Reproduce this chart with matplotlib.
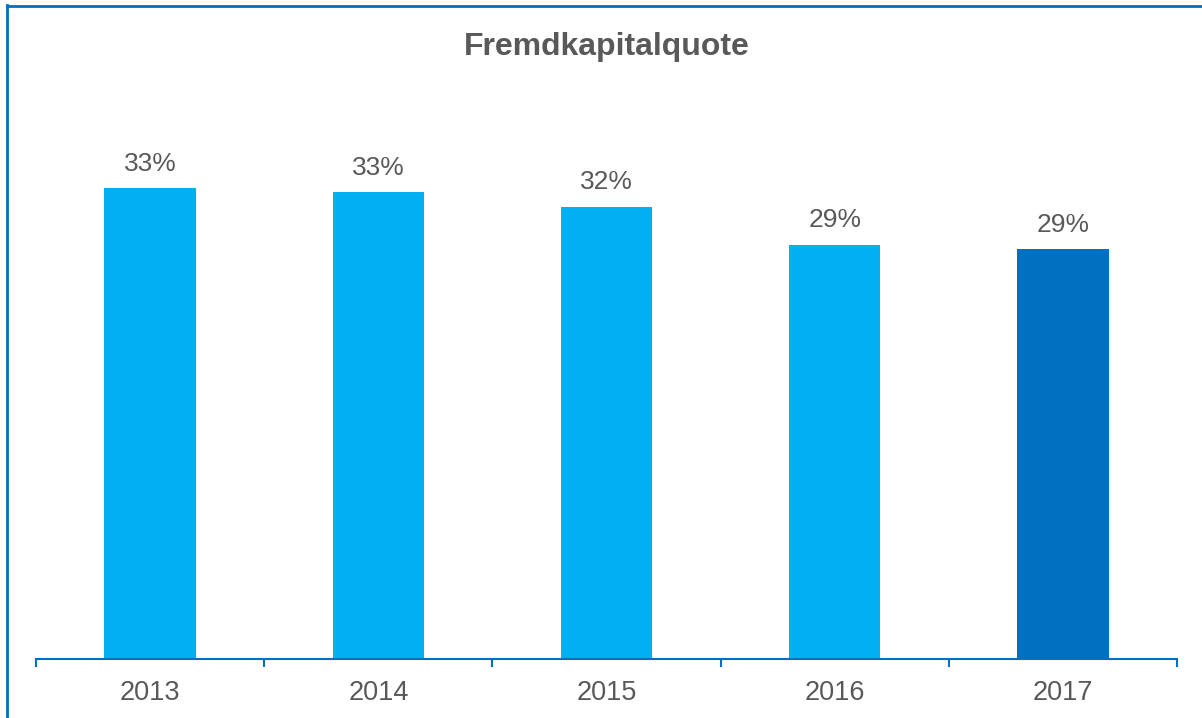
import matplotlib.pyplot as plt
from matplotlib.lines import Line2D

plt.rcParams['font.family'] = ['Liberation Sans', 'DejaVu Sans']

years = ["2013", "2014", "2015", "2016", "2017"]
values = [33.2, 32.9, 31.9, 29.2, 28.9]
labels = ["33%", "33%", "32%", "29%", "29%"]
colors = ["#00B0F0", "#00B0F0", "#00B0F0", "#00B0F0", "#0070C0"]

text_grey = "#595959"
line_blue = "#0070C0"

fig = plt.figure(figsize=(12.02, 7.18), dpi=100)
ax = fig.add_axes([0.02995, 0.08217, 0.9493, 0.7367])

x = range(len(years))
ax.bar(x, values, width=0.4, color=colors)
for i, v in enumerate(values):
    ax.annotate(labels[i], (i, v), xytext=(0, 9), textcoords="offset points",
                ha="center", va="bottom", fontsize=19, color=text_grey)

ax.set_xlim(-0.5, len(years) - 0.5)
ax.set_ylim(0, 37.3)
ax.set_yticks([])
ax.set_xticks(list(x))
ax.set_xticklabels(years, fontsize=19.5, color=text_grey)
ax.set_xticks([i - 0.5 for i in range(len(years) + 1)], minor=True)
ax.tick_params(axis="x", which="major", length=0, pad=15)
ax.tick_params(axis="x", which="minor", length=6, width=1.5, color=line_blue, direction="out")
for s in ["top", "right", "left"]:
    ax.spines[s].set_visible(False)
ax.spines["bottom"].set_color(line_blue)
ax.spines["bottom"].set_linewidth(1.5)

fig.text(0.505, 0.934, "Fremdkapitalquote", ha="center", va="center",
         fontsize=23, fontweight="bold", color=text_grey)

# frame round the chart (right and bottom edges are cut off)
fig.add_artist(Line2D([7 / 1202, 7 / 1202], [0, 1 - 5 / 718], transform=fig.transFigure,
                      color=line_blue, linewidth=2))
fig.add_artist(Line2D([7 / 1202, 1], [1 - 5.5 / 718, 1 - 5.5 / 718], transform=fig.transFigure,
                      color=line_blue, linewidth=2))

fig.savefig("out.png", dpi=100)
